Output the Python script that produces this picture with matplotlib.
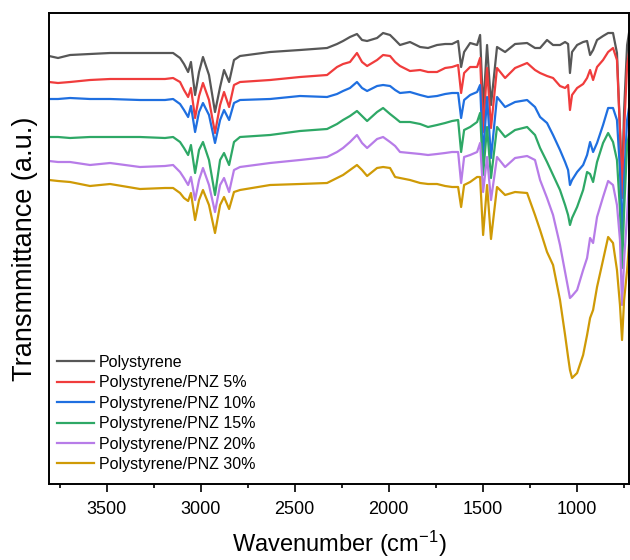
import numpy as np
import matplotlib
matplotlib.use("Agg")
import matplotlib.pyplot as plt
from matplotlib.ticker import MultipleLocator

plt.rcParams['font.family'] = ['Liberation Sans', 'DejaVu Sans']
plt.rcParams['mathtext.default'] = 'regular'

# wavenumbers (cm-1)
wavenumber = [3806, 3758, 3694, 3588, 3481, 3322, 3189, 3146, 3109, 3088, 3066, 3051, 3029, 3008,
              2987, 2955, 2923, 2896, 2875, 2848, 2822, 2790, 2630, 2471, 2327, 2274, 2242, 2205,
              2168, 2141, 2114, 2061, 2029, 1992, 1965, 1939, 1886, 1832, 1790, 1742, 1699, 1662,
              1630, 1614, 1598, 1566, 1529, 1513, 1497, 1476, 1455, 1423, 1380, 1327, 1263, 1221,
              1194, 1157, 1125, 1088, 1061, 1045, 1035, 1024, 997, 965, 944, 928, 912, 891,
              859, 832, 806, 785, 769, 758, 747, 731, 721]

# transmittance, arbitrary units (offset traces)
ps = [444, 442, 445, 446, 447, 447, 447, 447, 442, 436, 428, 438, 405, 428,
      443, 425, 388, 413, 430, 418, 440, 444, 448, 450, 452, 456, 459, 463,
      466, 460, 459, 462, 467, 465, 460, 455, 458, 453, 452, 455, 456, 456,
      459, 433, 448, 457, 455, 465, 390, 455, 395, 453, 448, 456, 457, 452,
      452, 460, 455, 455, 458, 456, 427, 448, 455, 458, 459, 445, 450, 460,
      464, 467, 467, 447, 370, 315, 390, 455, 467]
pnz5 = [418, 417, 418, 420, 421, 421, 421, 422, 418, 410, 403, 412, 382, 404,
        417, 400, 367, 395, 408, 393, 415, 418, 420, 423, 425, 433, 436, 438,
        447, 438, 434, 440, 445, 444, 438, 434, 429, 430, 428, 428, 432, 433,
        435, 407, 427, 433, 433, 442, 368, 432, 372, 432, 422, 432, 437, 430,
        427, 424, 422, 414, 412, 415, 390, 405, 412, 416, 422, 430, 420, 433,
        440, 448, 452, 440, 370, 302, 370, 435, 447]
pnz10 = [401, 401, 402, 401, 401, 400, 400, 401, 396, 390, 383, 394, 368, 388,
         397, 385, 357, 380, 390, 380, 397, 400, 401, 404, 403, 406, 409, 412,
         418, 412, 409, 414, 415, 414, 410, 407, 408, 405, 403, 404, 406, 407,
         407, 382, 400, 405, 408, 415, 343, 403, 342, 403, 393, 398, 400, 393,
         383, 377, 365, 350, 338, 330, 315, 320, 328, 335, 345, 358, 348, 357,
         375, 392, 392, 380, 330, 262, 320, 380, 392]
pnz15 = [363, 363, 362, 363, 363, 363, 362, 363, 358, 352, 345, 355, 327, 350,
         358, 340, 305, 340, 347, 335, 358, 363, 365, 369, 371, 376, 380, 384,
         389, 384, 379, 388, 392, 386, 382, 378, 378, 376, 373, 375, 377, 379,
         380, 348, 370, 373, 378, 387, 325, 373, 322, 373, 363, 370, 373, 365,
         352, 338, 325, 310, 295, 285, 275, 282, 293, 310, 328, 326, 318, 338,
         357, 367, 358, 340, 290, 232, 290, 355, 365]
pnz20 = [339, 338, 338, 335, 337, 333, 334, 335, 328, 322, 315, 323, 300, 320,
         332, 315, 288, 315, 322, 308, 330, 333, 337, 340, 343, 348, 352, 358,
         365, 357, 352, 361, 363, 358, 354, 348, 347, 346, 345, 346, 347, 348,
         348, 317, 343, 345, 348, 357, 308, 343, 300, 343, 333, 342, 344, 340,
         320, 302, 285, 255, 228, 212, 202, 204, 210, 230, 242, 262, 257, 283,
         303, 319, 315, 295, 260, 195, 240, 285, 317]
pnz30 = [320, 319, 318, 314, 316, 311, 312, 312, 307, 302, 299, 307, 280, 300,
         310, 295, 267, 295, 303, 291, 308, 310, 315, 316, 317, 322, 325, 330,
         335, 330, 324, 332, 333, 332, 323, 322, 320, 317, 316, 316, 314, 313,
         313, 293, 315, 318, 323, 323, 265, 315, 261, 313, 305, 308, 307, 285,
         270, 248, 235, 200, 165, 143, 130, 122, 127, 145, 165, 182, 190, 213,
         240, 263, 257, 230, 195, 160, 200, 230, 255]

labels = ['Polystyrene', 'Polystyrene/PNZ 5%', 'Polystyrene/PNZ 10%',
          'Polystyrene/PNZ 15%', 'Polystyrene/PNZ 20%', 'Polystyrene/PNZ 30%']
colors = ['#575757', '#f03c3c', '#1f6fe0', '#2ea866', '#b77ce8', '#cf9a06']

fig = plt.figure(figsize=(6.3, 5.6), dpi=100)
ax = fig.add_axes([49/630, 76/560, 580/630, 471/560])

for y, lab, c in zip([ps, pnz5, pnz10, pnz15, pnz20, pnz30], labels, colors):
    ax.plot(wavenumber, y, color=c, lw=1.6, label=lab)

ax.set_xlim(3806, 721)
ax.set_ylim(16, 487)
ax.xaxis.set_major_locator(MultipleLocator(500))
ax.xaxis.set_minor_locator(MultipleLocator(250))
ax.set_yticks([])
ax.tick_params(axis='x', which='major', direction='out', length=6, width=1.2,
               labelsize=13, pad=6, top=False)
ax.tick_params(axis='x', which='minor', direction='out', length=3, width=1.2, top=False)
for s in ax.spines.values():
    s.set_linewidth(1.4)

ax.set_xlabel('Wavenumber (cm$^{-1}$)', fontsize=17, labelpad=8)
ax.set_ylabel('Transmmittance (a.u.)', fontsize=19.5, labelpad=8)

ax.legend(loc='lower left', bbox_to_anchor=(8/580, 12/471), frameon=False,
          fontsize=11.5, handlelength=2.3, handletextpad=0.3, labelspacing=0.34,
          borderpad=0, borderaxespad=0)

fig.savefig('out.png', dpi=100)
